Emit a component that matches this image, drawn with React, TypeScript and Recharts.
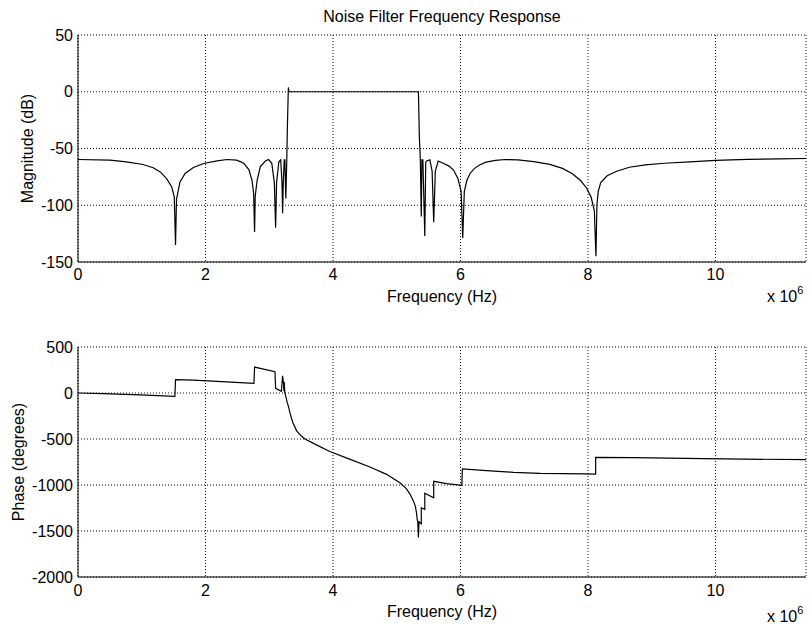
import { LineChart, Line, XAxis, YAxis, CartesianGrid } from "recharts";

const FONT = '"Liberation Sans", Arial, Helvetica, sans-serif';
const X_MAX = 11.42;

// frequency axis values are in units of 1e6 Hz
const magFreq = [
  0, 0.5, 0.76, 1.02, 1.18, 1.29, 1.39, 1.47, 1.51, 1.53, 1.545, 1.6, 1.68, 1.81,
  1.97, 2.18, 2.34, 2.49, 2.6, 2.68, 2.73, 2.755, 2.77, 2.78, 2.81, 2.86, 2.94,
  2.99, 3.04, 3.08, 3.1, 3.115, 3.15, 3.18, 3.2, 3.21, 3.22, 3.235, 3.245, 3.26,
  3.275, 3.285, 3.3, 3.31, 5.34, 5.355, 5.37, 5.385, 5.395, 5.41, 5.44, 5.455,
  5.47, 5.52, 5.555, 5.58, 5.605, 5.65, 5.73, 5.82, 5.89, 5.96, 6.01, 6.035, 6.06,
  6.1, 6.15, 6.22, 6.3, 6.4, 6.55, 6.7, 6.9, 7.15, 7.4, 7.6, 7.75, 7.88, 7.98,
  8.05, 8.1, 8.125, 8.14, 8.16, 8.2, 8.3, 8.45, 8.65, 8.9, 9.2, 9.6, 10.0, 10.5,
  11.0, 11.42,
];
const magDb = [
  -59.7, -60.3, -61.8, -64.1, -67, -70.6, -76.5, -83.8, -92.6, -135, -95, -79.4, -72, -66.8,
  -63.2, -60.9, -59.7, -60.3, -63, -68.5, -78, -89.7, -123.5, -92, -78, -66, -61,
  -59.7, -63, -80, -119.7, -80, -62, -60, -80, -107, -80, -60, -60, -94,
  -60, -30, 3.8, 0, 0, -40, -60, -110, -60, -60, -127, -62,
  -61, -60, -70, -115, -70, -61, -63, -65.5, -69, -76.5, -88, -129, -88,
  -78, -72, -67.5, -64.5, -62, -60.5, -59.7, -60, -61.5, -64, -67.5, -72, -78, -85,
  -93, -105, -145, -100, -88, -80, -74, -70, -66.5, -64.5, -63, -61.8, -60.5, -59.6,
  -59.2, -58.8,
];

const phaseFreq = [
  0, 0.39, 0.97, 1.52, 1.53, 1.81, 2.33, 2.76, 2.77, 3.09, 3.1, 3.19, 3.21, 3.215,
  3.225, 3.23, 3.235, 3.245, 3.26, 3.28, 3.3, 3.33, 3.37, 3.43, 3.5, 3.56, 3.74,
  3.95, 4.27, 4.58, 4.84, 5.05, 5.15, 5.21, 5.26, 5.29, 5.31, 5.32, 5.33, 5.34,
  5.35, 5.385, 5.385, 5.44, 5.44, 5.58, 5.58, 5.78, 6.02, 6.03, 6.41, 6.83, 7.25,
  7.95, 8.12, 8.12, 8.71, 9.81, 11.42,
];
const phaseDeg = [
  0, -7, -21, -36, 146, 140, 121, 104, 282, 232, 50, 18, 186, 150,
  100, 20, 120, 0, -36, -100, -143, -230, -320, -411, -465, -500, -564,
  -636, -722, -805, -884, -975, -1040, -1101, -1170, -1227, -1300, -1372, -1400, -1570,
  -1400, -1420, -1250, -1265, -1090, -1140, -960, -985, -1003, -826, -844, -862, -873,
  -880, -882, -699, -703, -714, -725,
];

const xTicks = [0, 2, 4, 6, 8, 10];
const magTicks = [-150, -100, -50, 0, 50];
const phaseTicks = [-2000, -1500, -1000, -500, 0, 500];

const magData = magFreq.map((f, i) => ({ f, v: magDb[i] }));
const phaseData = phaseFreq.map((f, i) => ({ f, v: phaseDeg[i] }));

const tickStyle = { fontSize: 16, fill: "#000", fontFamily: FONT };
const labelStyle = { fontSize: 16, fill: "#000", fontFamily: FONT };

interface PanelProps {
  data: { f: number; v: number }[];
  height: number;
  plotHeight: number;
  yDomain: [number, number];
  yTicks: number[];
  yLabel: string;
  yLabelOffset: number;
  xLabelOffset: number;
  tickMargin: number;
}

const Panel = ({
  data,
  height,
  plotHeight,
  yDomain,
  yTicks,
  yLabel,
  yLabelOffset,
  xLabelOffset,
  tickMargin,
}: PanelProps) => (
  <LineChart
    width={809}
    height={height}
    data={data}
    margin={{ top: 35, right: 3, bottom: 0, left: 0 }}
  >
    <CartesianGrid stroke="#111" strokeDasharray="1 2" />
    <XAxis
      dataKey="f"
      type="number"
      domain={[0, X_MAX]}
      ticks={xTicks}
      interval={0}
      allowDataOverflow
      height={height - 35 - plotHeight}
      tickLine={false}
      tickSize={6}
      tickMargin={tickMargin}
      tick={tickStyle}
      axisLine={{ stroke: "#000" }}
      label={{
        value: "Frequency (Hz)",
        position: "insideBottom",
        offset: xLabelOffset,
        ...labelStyle,
      }}
    />
    <XAxis
      xAxisId="top"
      orientation="top"
      type="number"
      domain={[0, X_MAX]}
      height={0}
      tick={false}
      tickLine={false}
      axisLine={{ stroke: "#000" }}
    />
    <YAxis
      type="number"
      domain={yDomain}
      ticks={yTicks}
      interval={0}
      allowDataOverflow
      width={78}
      tickLine={false}
      tickSize={4}
      tickMargin={1}
      tick={tickStyle}
      axisLine={{ stroke: "#000" }}
      label={{
        value: yLabel,
        angle: -90,
        position: "insideLeft",
        offset: yLabelOffset,
        style: { textAnchor: "middle" },
        ...labelStyle,
      }}
    />
    <YAxis
      yAxisId="right"
      orientation="right"
      type="number"
      domain={yDomain}
      width={0}
      tick={false}
      tickLine={false}
      axisLine={{ stroke: "#000" }}
    />
    <Line
      type="linear"
      dataKey="v"
      stroke="#000"
      strokeWidth={1.2}
      dot={false}
      isAnimationActive={false}
    />
  </LineChart>
);

const Exponent = ({ top }: { top: number }) => (
  <div
    style={{
      position: "absolute",
      left: 767,
      top,
      fontFamily: FONT,
      fontSize: 16,
      lineHeight: "18px",
      whiteSpace: "nowrap",
    }}
  >
    x 10
    <span style={{ fontSize: 11, position: "relative", top: -8 }}>6</span>
  </div>
);

export default function App() {
  return (
    <div
      style={{
        position: "absolute",
        left: 0,
        top: 0,
        width: 809,
        height: 626,
        background: "#fff",
      }}
    >
      <div style={{ position: "absolute", left: 0, top: 0 }}>
        <Panel
          data={magData}
          height={310}
          plotHeight={227}
          yDomain={[-150, 50]}
          yTicks={magTicks}
          yLabel="Magnitude (dB)"
          yLabelOffset={27}
          xLabelOffset={8}
          tickMargin={1}
        />
      </div>
      <div style={{ position: "absolute", left: 0, top: 312 }}>
        <Panel
          data={phaseData}
          height={314}
          plotHeight={230}
          yDomain={[-2000, 500]}
          yTicks={phaseTicks}
          yLabel="Phase (degrees)"
          yLabelOffset={18}
          xLabelOffset={9}
          tickMargin={2}
        />
      </div>
      <div
        style={{
          position: "absolute",
          left: 78,
          top: 8,
          width: 728,
          textAlign: "center",
          fontFamily: FONT,
          fontSize: 16,
          lineHeight: "18px",
        }}
      >
        Noise Filter Frequency Response
      </div>
      <Exponent top={288} />
      <Exponent top={608} />
    </div>
  );
}
